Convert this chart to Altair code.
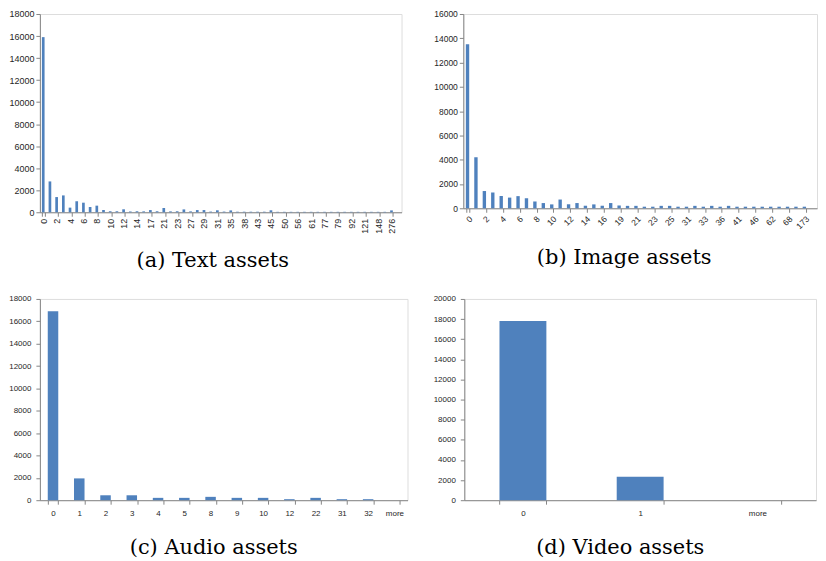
import altair as alt
import pandas as pd

# ---------------- data ----------------
text_cats = ["0", "1", "2", "3", "4", "5", "6", "7", "8", "9", "10", "11", "12", "13", "14", "16",
             "17", "19", "21", "22", "23", "25", "27", "28", "29", "30", "31", "33", "35", "36",
             "38", "40", "43", "44", "45", "47", "50", "53", "56", "58", "61", "70", "77", "78",
             "79", "85", "92", "100", "121", "130", "148", "200", "276", "more"]
text_vals = [15900, 2800, 1380, 1530, 420, 1000, 870, 480, 600, 200, 90, 90, 270, 70, 90, 80,
             200, 90, 390, 80, 90, 260, 80, 200, 200, 60, 180, 60, 170, 50,
             50, 50, 50, 50, 180, 40, 40, 40, 40, 40, 40, 40, 40, 40,
             40, 40, 40, 40, 40, 40, 40, 40, 170, 0]
text_labels = ["0", "2", "4", "6", "8", "10", "12", "14", "17", "21", "23", "27", "29", "31",
               "35", "38", "43", "45", "50", "56", "61", "77", "79", "92", "121", "148", "276"]

image_cats = ["0", "1", "2", "3", "4", "5", "6", "7", "8", "9", "10", "11", "12", "13", "14",
              "15", "16", "18", "19", "20", "21", "22", "23", "24", "25", "28", "31", "32", "33",
              "35", "36", "38", "41", "44", "46", "55", "62", "65", "68", "100", "173", "more"]
image_vals = [13500, 4200, 1420, 1300, 1010, 880, 1000, 830, 560, 430, 320, 720, 330, 430, 210,
              320, 210, 430, 230, 200, 200, 130, 130, 200, 200, 130, 130, 200, 130,
              200, 130, 200, 130, 130, 130, 130, 130, 130, 130, 130, 130, 0]
image_labels = ["0", "2", "4", "6", "8", "10", "12", "14", "16", "19", "21", "23", "25", "31",
                "33", "36", "41", "46", "62", "68", "173"]

audio_cats = ["0", "1", "2", "3", "4", "5", "8", "9", "10", "12", "22", "31", "32", "more"]
audio_vals = [16900, 1950, 440, 440, 210, 210, 300, 210, 210, 90, 210, 90, 90, 0]

video_cats = ["0", "1", "more"]
video_vals = [17800, 2340, 0]

BAR = "#4F81BD"
AXIS = "#868686"
LABEL = "#262626"


def panel(cats, vals, labels, ymax, w, h, fs, angle, caption, dx, offset, ypad=2, xpad=2):
    df = pd.DataFrame({"cat": cats, "val": vals})
    return alt.Chart(df).mark_bar(color=BAR).encode(
        x=alt.X("cat:N", sort=cats,
                scale=alt.Scale(paddingInner=0.6, paddingOuter=0.3),
                axis=alt.Axis(values=labels, labelAngle=angle, tickBand="extent", title=None,
                              grid=False, domainColor=AXIS, tickColor=AXIS, tickSize=4,
                              labelFontSize=fs, labelFont="Liberation Sans", labelColor=LABEL,
                              labelOverlap=False, labelPadding=xpad)),
        y=alt.Y("val:Q", scale=alt.Scale(domain=[0, ymax], nice=False),
                axis=alt.Axis(values=list(range(0, ymax + 1, 2000)), format="d", title=None,
                              grid=False, domainColor=AXIS, tickColor=AXIS, tickSize=4,
                              labelFontSize=fs, labelFont="Liberation Sans", labelColor=LABEL,
                              labelPadding=ypad)),
    ).properties(
        width=w, height=h,
        title=alt.TitleParams(text=caption, orient="bottom", anchor="middle", frame="group",
                              font="DejaVu Serif", fontSize=21, fontWeight="normal",
                              color="black", dx=dx, offset=offset),
    )


a = panel(text_cats, text_vals, text_labels, 18000, 363, 199, 9, -90, "(a) Text assets", -8, 17)
b = panel(image_cats, image_vals, image_labels, 16000, 355, 195, 8.5, -45, "(b) Image assets", -16, 17)
c = panel(audio_cats, audio_vals, audio_cats, 18000, 369, 202, 8, 0, "(c) Audio assets", -10, 20,
          ypad=5, xpad=5)
d = panel(video_cats, video_vals, video_cats, 20000, 353, 202, 8, 0, "(d) Video assets", -20, 20,
          ypad=5, xpad=5)

chart = alt.vconcat(
    alt.hconcat(a, b, spacing=30),
    alt.hconcat(c, d, spacing=24),
    spacing=22,
).properties(padding=0).configure_view(stroke=None).configure(background="white")

chart.save("out.html", embed_options={"renderer": "svg", "actions": False})
